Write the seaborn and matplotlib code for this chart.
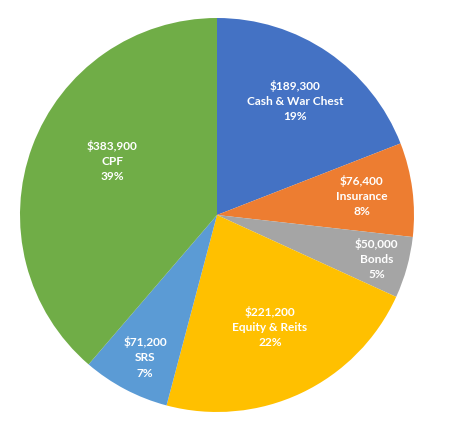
"""
Portfolio allocation pie chart (Excel-style).
Writes out.png
"""

import numpy as np
import matplotlib
matplotlib.use("Agg")
import matplotlib.pyplot as plt
import seaborn as sns

CATEGORIES = ["Cash & War Chest", "Insurance", "Bonds", "Equity & Reits", "SRS", "CPF"]
VALUES = [189300, 76400, 50000, 221200, 71200, 383900]
COLORS = ["#4472C4", "#ED7D31", "#A5A5A5", "#FFC000", "#5B9BD5", "#70AD47"]
# label placement (fraction of radius, angle nudge in degrees), like Excel's best fit
LABEL_R = [0.70, 0.74, 0.84, 0.63, 0.81, 0.60]
LABEL_DA = [0, 0, 0, 0, 1, -7]


def main():
    sns.set_style("white")
    plt.rcParams["font.family"] = ["Lato", "DejaVu Sans"]

    fig = plt.figure(figsize=(4.53, 4.22), dpi=100)
    ax = fig.add_axes([20 / 453, 10 / 422, 394 / 453, 394 / 422])

    wedges, _ = ax.pie(VALUES, colors=COLORS, startangle=90, counterclock=False,
                       radius=1.0, wedgeprops={"linewidth": 0})

    total = sum(VALUES)
    for w, cat, val, r, da in zip(wedges, CATEGORIES, VALUES, LABEL_R, LABEL_DA):
        ang = np.deg2rad((w.theta1 + w.theta2) / 2 + da)
        pct = round(val / total * 100)
        ax.text(r * np.cos(ang), r * np.sin(ang), f"${val:,}\n{cat}\n{pct}%",
                ha="center", va="center", color="white", fontsize=8.6,
                fontweight="bold", linespacing=1.45)

    ax.set_xlim(-1, 1)
    ax.set_ylim(-1, 1)
    ax.set_aspect("equal")
    ax.axis("off")

    fig.savefig("out.png", dpi=100)
    plt.close(fig)


if __name__ == "__main__":
    main()
